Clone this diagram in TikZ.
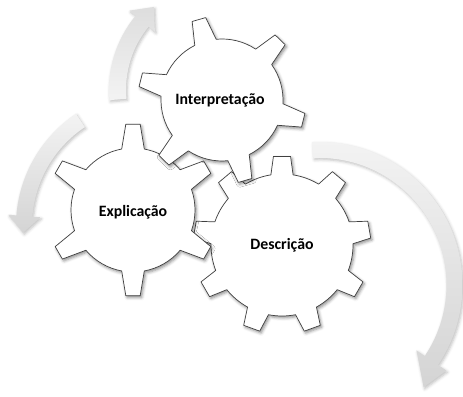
\documentclass[tikz,border=0pt]{standalone}
\usepackage{fontspec}
\setmainfont{Carlito}
\usetikzlibrary{shadows.blur}

\definecolor{gearline}{HTML}{404040}
\definecolor{arrowlight}{HTML}{F3F3F3}
\definecolor{arrowdark}{HTML}{D4D4D4}

\tikzset{
  gear/.style={draw=gearline, line width=0.6pt, fill=white, line join=round,
    blur shadow={shadow xshift=1.2pt, shadow yshift=-1.6pt, shadow blur radius=2.5pt, shadow opacity=45}},
  cyclearrow/.style={blur shadow={shadow xshift=1pt, shadow yshift=-1.4pt, shadow blur radius=2.5pt, shadow opacity=25}},
  gearlabel/.style={font=\fontsize{13.5}{16}\selectfont\bfseries, inner sep=0pt},
}

\begin{document}
\begin{tikzpicture}[x=0.03cm, y=0.03cm]
\useasboundingbox (0,0) rectangle (463,397);

% curved arrows behind the gears
\shade[cyclearrow, top color=arrowlight, bottom color=arrowdark, shift={(319.5,112)}]
  (92.8:127) arc[start angle=92.8, end angle=-34, radius=127] -- (-34:117) -- (-44.5:146)
  -- (-34:153) -- (-34:143) arc[start angle=-34, end angle=92.8, radius=143] -- cycle;
\shade[cyclearrow, top color=arrowlight, bottom color=arrowdark, shift={(151,171)}]
  (123.8:119) arc[start angle=123.8, end angle=175.5, radius=119] -- (175.5:111) -- (183:128)
  -- (175.5:143) -- (175.5:135) arc[start angle=175.5, end angle=123.8, radius=135] -- cycle;
\shade[cyclearrow, top color=arrowdark!70!arrowlight, bottom color=arrowlight, shift={(226,307)}]
  (185:100) arc[start angle=185, end angle=140.6, radius=100] -- (140.6:92) -- (131:110)
  -- (140.6:125) -- (140.6:117) arc[start angle=140.6, end angle=185, radius=117] -- cycle;

% big gear, nine teeth
\begin{scope}[shift={(282,152)}]
\draw[gear] (81:71) \foreach \k in {0,...,8} {
    -- ({90+40*\k-5.5}:89) -- ({90+40*\k+5.5}:89) -- ({90+40*\k+9}:71)
    arc[start angle={90+40*\k+9}, end angle={130+40*\k-9}, radius=71] } -- cycle;
\node[gearlabel] (desc) at (0,0) {Descrição};
\end{scope}

% left gear, six teeth
\begin{scope}[shift={(133,187)}]
\draw[gear] (79.5:62) \foreach \k in {0,...,5} {
    -- ({90+60*\k-4.8}:86) -- ({90+60*\k+4.8}:86) -- ({90+60*\k+10.5}:62)
    arc[start angle={90+60*\k+10.5}, end angle={150+60*\k-10.5}, radius=62] } -- cycle;
\node[gearlabel] (expl) at (0,-2) {Explicação};
\end{scope}

% top gear, six teeth
\begin{scope}[shift={(222,297)}]
\draw[gear] (95.5:61) \foreach \k in {0,...,5} {
    -- ({106+60*\k-4.8}:84) -- ({106+60*\k+4.8}:84) -- ({106+60*\k+10.5}:61)
    arc[start angle={106+60*\k+10.5}, end angle={166+60*\k-10.5}, radius=61] } -- cycle;
\node[gearlabel] (interp) at (-2,0) {Interpretação};
\end{scope}
\end{tikzpicture}
\end{document}
